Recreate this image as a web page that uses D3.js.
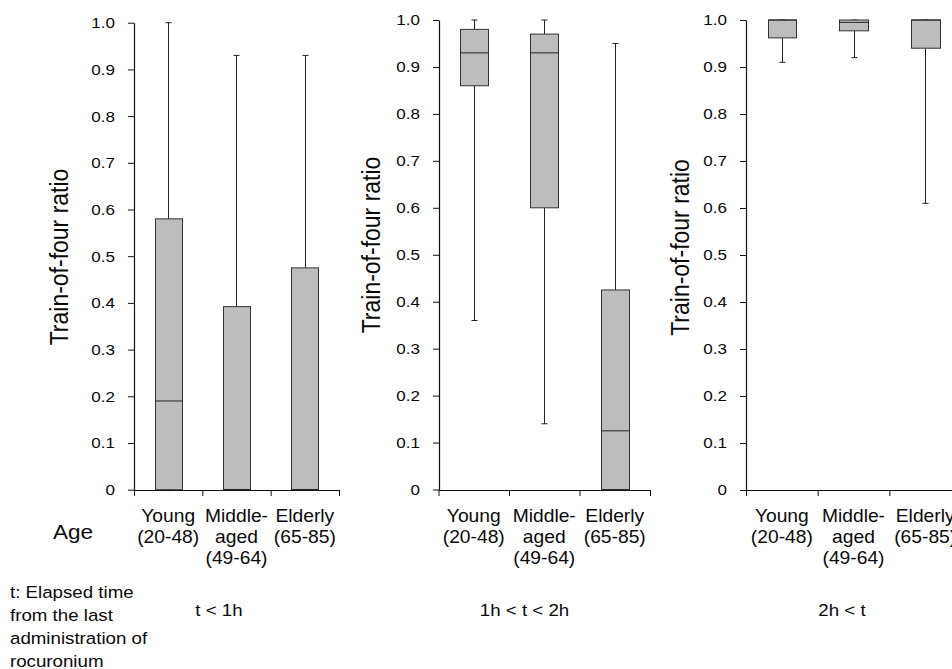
<!DOCTYPE html>
<html><head><meta charset="utf-8">
<script src="https://cdn.jsdelivr.net/npm/d3@7"></script>
<style>body{margin:0;background:#fff} svg{display:block} text{font-family:"Liberation Sans",Arial,Helvetica,sans-serif;fill:#0a0a0a}</style>
</head><body><svg id="c" width="952" height="669"></svg>
<script>
// ---- data ----
const groups = ["Young", "Middle-aged", "Elderly"];
const groupLabels = [["Young", "(20-48)"], ["Middle-", "aged", "(49-64)"], ["Elderly", "(65-85)"]];
const periods = ["t < 1h", "1h < t < 2h", "2h < t"];
const yTicks = [0, 0.1, 0.2, 0.3, 0.4, 0.5, 0.6, 0.7, 0.8, 0.9, 1.0];
const yTitle = "Train-of-four ratio";
const ageLabel = "Age";
const noteLines = ["t: Elapsed time", "from the last", "administration of", "rocuronium"];
// [min, q1, median, q3, max] per age group
const statsLt1h  = [[0, 0, 0.19, 0.58, 1.0], [0, 0, 0, 0.392, 0.93], [0, 0, 0, 0.475, 0.93]];
const stats1to2h = [[0.36, 0.86, 0.93, 0.98, 1.0], [0.14, 0.60, 0.93, 0.97, 1.0], [0, 0, 0.125, 0.425, 0.95]];
const statsGt2h  = [[0.91, 0.962, 1.0, 1.0, 1.0], [0.92, 0.977, 0.995, 1.0, 1.0], [0.61, 0.94, 1.0, 1.0, 1.0]];
const allStats = [statsLt1h, stats1to2h, statsGt2h];

// ---- layout ----
const SX = 1.1; // horizontal text stretch
const layout = [
  {x0: 134, x1: 339, top: 22.7, bottom: 489.7, titleX: 68.3, titleY: 257, periodX: 219},
  {x0: 438.5, x1: 650, top: 20, bottom: 489.5, titleX: 380, titleY: 245, periodX: 524.5},
  {x0: 746, x1: 961, top: 20, bottom: 490, titleX: 689.3, titleY: 247.5, periodX: 842}
];

const svg = d3.select("#c");
const fmt = d => d === 0 ? "0" : d3.format(".1f")(d);
const px = v => Math.round(v) + 0.5;

layout.forEach((L, pi) => {
  const stats = allStats[pi];
  const y = d3.scaleLinear().domain([0, 1]).range([L.bottom, L.top]);
  const xb = d3.scaleBand().domain(groups).range([L.x0, L.x1]).paddingInner(0.6).paddingOuter(0.3);
  const xl = d3.scaleLinear().domain([0, groups.length]).range([L.x0, L.x1]);
  const g = svg.append("g");
  const capW = 6;

  groups.forEach((grp, i) => {
    const [mn, q1, md, q3, mx] = stats[i];
    const cx = px(xb(grp) + xb.bandwidth() / 2);
    const bx0 = px(xb(grp)), bx1 = px(xb(grp) + xb.bandwidth());
    const gg = g.append("g");
    // whiskers
    gg.append("line").attr("x1", cx).attr("x2", cx).attr("y1", y(q3)).attr("y2", y(mx)).attr("stroke", "#222").attr("stroke-width", 1);
    gg.append("line").attr("x1", cx).attr("x2", cx).attr("y1", y(q1)).attr("y2", y(mn)).attr("stroke", "#222").attr("stroke-width", 1);
    gg.append("line").attr("x1", cx - capW / 2).attr("x2", cx + capW / 2).attr("y1", y(mx)).attr("y2", y(mx)).attr("stroke", "#222").attr("stroke-width", 1);
    gg.append("line").attr("x1", cx - capW / 2).attr("x2", cx + capW / 2).attr("y1", y(mn)).attr("y2", y(mn)).attr("stroke", "#222").attr("stroke-width", 1);
    // box
    gg.append("rect").attr("x", bx0).attr("width", bx1 - bx0)
      .attr("y", y(q3)).attr("height", Math.max(0, y(q1) - y(q3)))
      .attr("fill", "#bdbdbd").attr("stroke", "#333").attr("stroke-width", 1);
    // median
    gg.append("line").attr("x1", bx0).attr("x2", bx1).attr("y1", y(md)).attr("y2", y(md)).attr("stroke", "#222").attr("stroke-width", 1);

    // category labels
    groupLabels[i].forEach((t, li) => {
      svg.append("text").attr("text-anchor", "middle")
        .attr("transform", `translate(${xb(grp) + xb.bandwidth() / 2},${522 + li * 21}) scale(${SX},1)`)
        .style("font-size", "17.5px").text(t);
    });
  });

  // y axis
  const ya = g.append("g").attr("transform", `translate(${Math.round(L.x0)},0)`)
    .call(d3.axisLeft(y).tickValues(yTicks).tickFormat(fmt).tickSize(6).tickSizeOuter(0));
  ya.select(".domain").attr("stroke", "#111").attr("stroke-width", 1.2);
  ya.selectAll(".tick line").attr("stroke", "#111");
  ya.selectAll(".tick text").attr("x", -17.3).attr("transform", `scale(${SX},1)`)
    .style("font-size", "15.5px").style("font-family", '"Liberation Sans",Arial,sans-serif').attr("fill", "#0a0a0a");

  // x axis
  const xa = g.append("g").attr("transform", `translate(0,${Math.round(L.bottom)})`)
    .call(d3.axisBottom(xl).tickValues(d3.range(groups.length + 1)).tickFormat("").tickSize(6).tickSizeOuter(0));
  xa.select(".domain").attr("stroke", "#111").attr("stroke-width", 1.2);
  xa.selectAll(".tick line").attr("stroke", "#111");

  // y title
  svg.append("text").attr("text-anchor", "middle")
    .attr("transform", `translate(${L.titleX},${L.titleY}) scale(${SX},1) rotate(-90)`)
    .style("font-size", "23px").text(yTitle);

  // period label
  svg.append("text").attr("text-anchor", "middle")
    .attr("transform", `translate(${L.periodX},616) scale(${SX},1)`)
    .style("font-size", "17px").text(periods[pi]);
});

svg.append("text").attr("transform", `translate(53,539) scale(${SX},1)`).style("font-size", "20.5px").text(ageLabel);
noteLines.forEach((t, i) => {
  svg.append("text").attr("transform", `translate(10,${598.3 + i * 22.8}) scale(${SX},1)`).style("font-size", "17px").text(t);
});
</script></body></html>
